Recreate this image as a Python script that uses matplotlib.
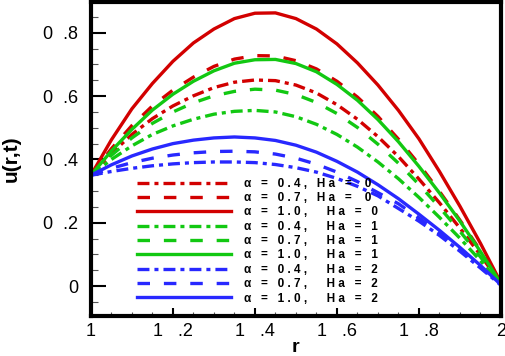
import matplotlib
matplotlib.use('Agg')
import matplotlib.pyplot as plt
from matplotlib.ticker import FixedLocator, MultipleLocator

plt.rcParams['font.family'] = ['Liberation Sans', 'DejaVu Sans']
plt.rcParams['lines.scale_dashes'] = False

# radial positions
r = [1.00, 1.05, 1.10, 1.15, 1.20, 1.25, 1.30, 1.35, 1.40, 1.45, 1.50,
     1.55, 1.60, 1.65, 1.70, 1.75, 1.80, 1.85, 1.90, 1.95, 2.00]

# u(r,t)
u_a04_ha0 = [.350, .419, .479, .529, .569, .601, .627, .644, .651, .649, .635,
             .610, .573, .527, .472, .409, .338, .263, .183, .098, .007]
u_a07_ha0 = [.350, .434, .507, .569, .619, .660, .694, .717, .728, .727, .712,
             .686, .647, .597, .536, .464, .385, .299, .208, .112, .008]
u_a10_ha0 = [.350, .462, .560, .640, .710, .768, .812, .845, .862, .863, .845,
             .812, .765, .705, .635, .555, .465, .362, .252, .135, .010]
u_a04_ha1 = [.350, .400, .443, .479, .506, .527, .543, .552, .555, .550, .535,
             .511, .479, .439, .392, .339, .280, .217, .151, .080, .005]
u_a07_ha1 = [.350, .413, .468, .514, .550, .579, .601, .615, .622, .619, .605,
             .580, .545, .501, .448, .388, .321, .249, .173, .092, .006]
u_a10_ha1 = [.350, .427, .495, .556, .606, .647, .680, .704, .715, .716, .703,
             .677, .637, .587, .526, .456, .378, .294, .205, .109, .008]
u_a04_ha2 = [.350, .362, .372, .380, .386, .390, .392, .392, .390, .384, .374,
             .360, .340, .315, .285, .245, .205, .160, .110, .057, .003]
u_a07_ha2 = [.350, .372, .390, .404, .414, .421, .425, .426, .424, .417, .404,
             .385, .360, .330, .295, .260, .215, .166, .115, .060, .003]
u_a10_ha2 = [.350, .383, .411, .433, .450, .461, .468, .471, .468, .460, .445,
             .423, .394, .360, .320, .276, .227, .176, .122, .065, .004]

series = [u_a04_ha0, u_a07_ha0, u_a10_ha0,
          u_a04_ha1, u_a07_ha1, u_a10_ha1,
          u_a04_ha2, u_a07_ha2, u_a10_ha2]
labels = ['α   =   0 . 4 ,   H a   =    0',
          'α   =   0 . 7 ,   H a   =    0',
          'α   =   1 . 0 ,      H a   =   0',
          'α   =   0 . 4 ,      H a   =   1',
          'α   =   0 . 7 ,      H a   =   1',
          'α   =   1 . 0 ,      H a   =   1',
          'α   =   0 . 4 ,      H a   =   2',
          'α   =   0 . 7 ,      H a   =   2',
          'α   =   1 . 0 ,      H a   =   2']

xticks = [1.0, 1.2, 1.4, 1.6, 1.8, 2.0]
xticklabels = ['1', '1   .2', '1   .4', '1   .6', '1   .8', '2']
yticks = [0.0, 0.2, 0.4, 0.6, 0.8]
yticklabels = ['0', '0  .2', '0  .4', '0  .6', '0  .8']

red, green, blue = '#d20000', '#12c812', '#2828ff'
colors = [red] * 3 + [green] * 3 + [blue] * 3
dashdot = (0, (8.6, 3.6, 2.9, 3.6))
dashed = (0, (9.0, 10.0))
styles = [dashdot, dashed, '-'] * 3

fig = plt.figure(figsize=(5.05, 3.56), dpi=100)
ax = fig.add_axes([0.180, 0.112, 0.812, 0.882])

for u, c, ls, lab in zip(series, colors, styles, labels):
    ax.plot(r, u, color=c, linestyle=ls, lw=2.4, label=lab)

ax.set_xlim(1.0, 2.0)
ax.set_ylim(-0.095, 0.897)

ax.xaxis.set_major_locator(FixedLocator(xticks))
ax.set_xticklabels(xticklabels)
ax.yaxis.set_major_locator(FixedLocator(yticks))
ax.set_yticklabels(yticklabels)
ax.xaxis.set_minor_locator(MultipleLocator(0.05))
ax.yaxis.set_minor_locator(MultipleLocator(0.05))

ax.tick_params(axis='both', which='both', direction='in', top=False, right=False)
ax.tick_params(axis='y', which='major', length=11, width=1.5, pad=9, labelsize=13)
ax.tick_params(axis='y', which='minor', length=5, width=0.8, color='#555555')
ax.tick_params(axis='x', which='major', length=6, width=1.5, pad=5, labelsize=13)
ax.tick_params(axis='x', which='minor', length=3, width=0.8, color='#555555')

for s in ax.spines.values():
    s.set_linewidth(3)

ax.set_ylabel('u(r,t)', fontsize=15, fontweight='bold', labelpad=16)
ax.set_xlabel('r', fontsize=14, fontweight='bold', labelpad=-1)

leg = ax.legend(loc='upper left', bbox_to_anchor=(0.112, 0.441), frameon=False,
                borderpad=0, borderaxespad=0, handlelength=8.0, handletextpad=1.1,
                labelspacing=0.2, prop={'weight': 'bold', 'size': 8.5})

fig.savefig('out.png', dpi=100)
